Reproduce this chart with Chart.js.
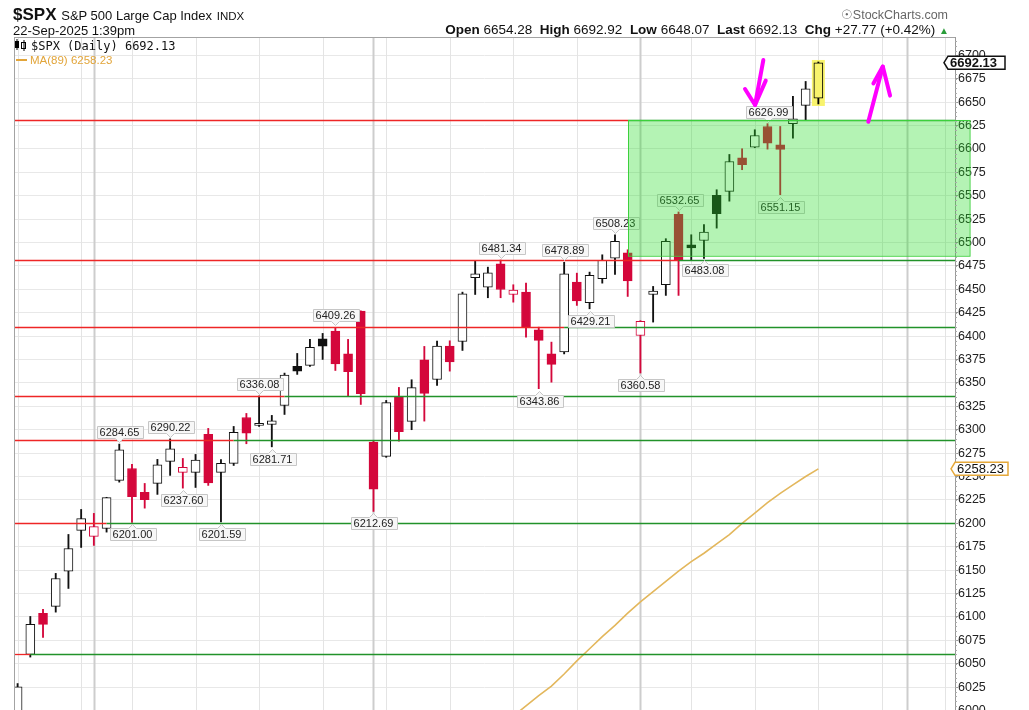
<!DOCTYPE html>
<html><head><meta charset="utf-8">
<script src="https://cdn.jsdelivr.net/npm/chart.js@4.4.1/dist/chart.umd.min.js"></script>
<style>
html,body{margin:0;padding:0;background:#fff;overflow:hidden;}
#wrap{position:relative;width:1029px;height:710px;overflow:hidden;font-family:"Liberation Sans",Arial,sans-serif;color:#111;}
#c{position:absolute;left:0;top:0;}
.hd{position:absolute;white-space:nowrap;line-height:1;}
.hd b{font-weight:bold;}
</style></head><body>
<div id="wrap">
<canvas id="c" width="1029" height="760"></canvas>
<div class="hd" style="left:13px;top:6px;font-size:17px;"><b>$SPX</b> <span style="font-size:13px">S&amp;P 500 Large Cap Index</span> <span style="font-size:11.5px">INDX</span></div>
<div class="hd" style="left:13px;top:24px;font-size:13px;">22-Sep-2025 1:39pm</div>
<div class="hd" style="right:81px;top:9px;font-size:12.5px;color:#666;">&#9737;StockCharts.com</div>
<div class="hd" style="right:80px;top:23px;font-size:13.5px;"><b>Open</b> 6654.28&nbsp; <b>High</b> 6692.92&nbsp; <b>Low</b> 6648.07&nbsp; <b>Last</b> 6692.13&nbsp; <b>Chg</b> +27.77 (+0.42%) <span style="color:#2a9d3a;font-size:10px">&#9650;</span></div>
</div>
<script>
// SPX daily, 23-Jun-2025 .. 22-Sep-2025 (+ empty slots to 6-Oct)
const dates = [
  '2025-06-23','2025-06-24','2025-06-25','2025-06-26','2025-06-27','2025-06-30',
  '2025-07-01','2025-07-02','2025-07-03','2025-07-07','2025-07-08','2025-07-09','2025-07-10','2025-07-11',
  '2025-07-14','2025-07-15','2025-07-16','2025-07-17','2025-07-18','2025-07-21','2025-07-22','2025-07-23',
  '2025-07-24','2025-07-25','2025-07-28','2025-07-29','2025-07-30','2025-07-31',
  '2025-08-01','2025-08-04','2025-08-05','2025-08-06','2025-08-07','2025-08-08','2025-08-11','2025-08-12',
  '2025-08-13','2025-08-14','2025-08-15','2025-08-18','2025-08-19','2025-08-20','2025-08-21','2025-08-22',
  '2025-08-25','2025-08-26','2025-08-27','2025-08-28','2025-08-29',
  '2025-09-02','2025-09-03','2025-09-04','2025-09-05','2025-09-08','2025-09-09','2025-09-10','2025-09-11',
  '2025-09-12','2025-09-15','2025-09-16','2025-09-17','2025-09-18','2025-09-19','2025-09-22',
  '2025-09-23','2025-09-24','2025-09-25','2025-09-26','2025-09-29','2025-09-30',
  '2025-10-01','2025-10-02','2025-10-03','2025-10-06'
];
const open  = [5969.7,6060.0,6103.7,6111.2,6148.9,6192.4,6186.0,6194.5,6245.8,6258.6,6233.0,6242.6,6266.1,6254.4,
  6254.4,6295.0,6254.4,6264.0,6313.1,6304.7,6305.6,6325.9,6367.6,6368.7,6397.2,6405.3,6381.2,6426.7,
  6286.7,6271.5,6334.8,6308.9,6374.8,6353.7,6389.3,6394.3,6462.4,6452.3,6477.3,6444.5,6447.0,6406.8,6381.2,6383.0,
  6457.7,6435.7,6461.3,6483.3,6489.1,6400.7,6444.5,6454.9,6530.0,6497.6,6502.2,6550.3,6554.6,6590.6,6601.9,6624.0,
  6604.5,6626.9,6646.5,6654.28];
const high  = [6028.8,6100.5,6108.0,6146.5,6188.1,6214.8,6210.6,6227.8,6284.65,6262.9,6242.6,6268.3,6290.22,6269.3,
  6273.6,6301.4,6268.0,6303.5,6317.4,6336.08,6315.3,6360.5,6381.5,6396.5,6402.9,6409.26,6396.5,6427.0,
  6288.0,6331.3,6345.2,6353.4,6389.0,6394.6,6395.0,6447.0,6480.1,6473.7,6481.34,6454.9,6456.6,6409.6,6393.6,6478.89,
  6467.3,6468.4,6486.9,6508.23,6492.3,6416.5,6453.1,6504.1,6532.65,6508.3,6519.3,6556.4,6594.1,6600.2,6620.5,6626.99,
  6624.0,6656.1,6672.1,6692.92];
const low   = [5943.2,6057.1,6078.1,6105.1,6130.4,6174.2,6176.4,6190.6,6244.0,6201.00,6216.2,6230.9,6251.2,6237.60,
  6238.3,6240.5,6201.59,6261.8,6285.0,6303.5,6281.71,6316.3,6359.1,6367.6,6375.1,6363.3,6335.6,6327.0,
  6212.69,6270.5,6287.8,6300.0,6309.2,6347.3,6362.6,6384.7,6444.5,6441.0,6441.0,6436.3,6398.9,6343.86,6350.8,6381.0,
  6432.8,6429.21,6456.6,6465.9,6442.4,6360.58,6415.0,6443.5,6443.5,6481.6,6483.08,6515.4,6544.2,6577.8,6601.3,6599.8,
  6551.15,6611.5,6630.4,6648.07];
const close = [6025.2,6092.2,6092.1,6141.0,6173.1,6205.0,6196.5,6227.4,6278.5,6228.5,6225.3,6262.4,6279.6,6259.7,
  6267.6,6243.2,6264.0,6297.2,6296.3,6305.6,6309.4,6358.3,6362.5,6388.0,6389.3,6370.3,6362.0,6338.4,
  6236.5,6329.0,6297.9,6344.9,6338.8,6389.3,6372.5,6445.3,6466.6,6467.7,6449.8,6449.2,6409.8,6395.4,6369.9,6466.6,
  6437.6,6464.9,6480.9,6501.2,6459.0,6415.8,6448.1,6501.2,6481.6,6494.2,6511.1,6530.8,6586.6,6583.1,6614.4,6606.2,
  6599.6,6632.2,6664.3,6692.13];
const prevClose0 = 5967.8;
// 89-day moving average (only the part that reaches the visible window)
const ma89 = [null,null,null,null,null,null,null,null,null,null,null,null,null,null,null,null,null,null,null,null,
  null,null,null,null,null,null,null,null,null,null,null,null,null,null,null,null,null,
  5972,5983,5994,6005,6016,6026,6039,6053,6066,6079,6091,6104,6116,6127,6138,6149,6159,6168,6178,6188,
  6200,6211,6222,6232,6241,6250,6258.23];

// drawn support / resistance levels, and the candle where they turn from red to green
const levels    = [6631, 6481.5, 6409.3, 6336, 6289, 6200.5, 6060];
const levelTurn = [48.03, 52, 43, 21, 17, 7, 1];
// green zone
const zoneX = [48.03, 74.9];
const zoneY = [6486, 6631];
// price callouts: candle index and which end of the candle
const calloutIdx  = [8,12,9,13,16,19,20,25,28,38,43,41,45,47,49,52,54,60,59];
const calloutSide = ['hi','hi','lo','lo','lo','hi','lo','hi','lo','hi','hi','lo','lo','hi','lo','hi','lo','lo','hi'];
// hand drawn magenta arrows (index, price)
const arrowTail  = [[58.67, 6695], [66.93, 6629]];
const arrowTip   = [[58.02, 6647], [68.07, 6688]];
const arrowBarbA = [[57.23, 6664], [67.33, 6670]];
const arrowBarbB = [[58.86, 6673], [68.64, 6657]];

const RED = '#d4073b', BLK = '#111', YEL = '#f8f36c';
const lineCol = [], fillCol = [];
for (let i=0;i<close.length;i++){
  const pc = i===0 ? prevClose0 : close[i-1];
  const col = close[i] >= pc ? BLK : RED;
  lineCol.push(col);
  fillCol.push(close[i] > open[i] ? '#ffffff' : col);
}
fillCol[close.length-1] = YEL;
lineCol[close.length-1] = '#000';

const wickData = close.map((c,i)=>({x:i, y:[low[i], high[i]]}));
const bodyData = close.map((c,i)=>({x:i, y:[open[i], c]}));
const maData = ma89.map((v,i)=>({x:i, y:v}));

const gridKind = dates.map((d,i)=>{
  if (i===0) return 1;
  const a = new Date(dates[i-1]+'T00:00:00Z'), b = new Date(d+'T00:00:00Z');
  if (b.getUTCMonth() !== a.getUTCMonth()) return 2;
  if (b.getUTCDay() <= a.getUTCDay()) return 1;
  return 0;
});

function seg(ctx, x1, y1, x2, y2){
  ctx.beginPath(); ctx.moveTo(x1,y1); ctx.lineTo(x2,y2); ctx.stroke();
}

function tag(ctx, tipX, left, right, cy, h, stroke, font, text){
  ctx.beginPath();
  ctx.moveTo(tipX, cy);
  ctx.lineTo(left, cy-h/2);
  ctx.lineTo(right, cy-h/2);
  ctx.lineTo(right, cy+h/2);
  ctx.lineTo(left, cy+h/2);
  ctx.closePath();
  ctx.fillStyle = '#fff'; ctx.fill();
  ctx.strokeStyle = stroke; ctx.lineWidth = 1.5; ctx.stroke();
  ctx.fillStyle = '#111'; ctx.font = font;
  ctx.textAlign = 'left'; ctx.textBaseline = 'middle';
  ctx.fillText(text, left+2, cy+0.5);
}

const overlay = {
  id: 'overlay',
  beforeDatasetsDraw(chart){
    const {ctx, chartArea:a, scales:{x, y}} = chart;
    ctx.save();
    // weekly / monthly vertical grid
    gridKind.forEach((k,i)=>{
      if (!k) return;
      const px = Math.round(x.getPixelForValue(i))+0.5;
      ctx.strokeStyle = k===2 ? '#cdcdcd' : '#e4e4e4';
      ctx.lineWidth = k===2 ? 2 : 1;
      seg(ctx, px, a.top, px, a.bottom);
    });
    // highlight of the last bar
    const li = close.length-1;
    const lx = x.getPixelForValue(li);
    ctx.fillStyle = YEL;
    const t = y.getPixelForValue(high[li])-2, b = y.getPixelForValue(low[li])+2;
    ctx.fillRect(lx-6.5, t, 13, b-t);
    ctx.restore();
  },
  afterDatasetsDraw(chart){
    const {ctx, chartArea:a, scales:{x, y}} = chart;
    ctx.save();
    // levels
    ctx.lineWidth = 1.3;
    levels.forEach((v,k)=>{
      const py = Math.round(y.getPixelForValue(v))+0.5;
      const bx = x.getPixelForValue(levelTurn[k]);
      ctx.strokeStyle = '#ee2626'; seg(ctx, a.left, py, bx, py);
      ctx.strokeStyle = '#22922a'; seg(ctx, bx, py, a.right, py);
    });
    // callouts
    ctx.font = '11px "Liberation Sans", Arial, sans-serif';
    ctx.lineWidth = 1;
    calloutIdx.forEach((ci,k)=>{
      const up = calloutSide[k]==='hi';
      const v = up ? high[ci] : low[ci];
      const txt = v.toFixed(2);
      const cx = Math.round(x.getPixelForValue(ci))+0.5;
      const vy = y.getPixelForValue(v);
      const w = Math.round(ctx.measureText(txt).width)+6, h = 12;
      const l = Math.round(cx - w/2)+0.5, r = l + w;
      const t = Math.round(up ? vy-6-h : vy+6)+0.5, b = t + h;
      ctx.beginPath();
      if (up){
        ctx.moveTo(l,t); ctx.lineTo(r,t); ctx.lineTo(r,b); ctx.lineTo(cx+4,b);
        ctx.lineTo(cx,b+4); ctx.lineTo(cx-4,b); ctx.lineTo(l,b);
      } else {
        ctx.moveTo(l,t); ctx.lineTo(cx-4,t); ctx.lineTo(cx,t-4); ctx.lineTo(cx+4,t);
        ctx.lineTo(r,t); ctx.lineTo(r,b); ctx.lineTo(l,b);
      }
      ctx.closePath();
      ctx.fillStyle = '#f7f7f7'; ctx.fill();
      ctx.strokeStyle = '#c6c6c6'; ctx.stroke();
      ctx.fillStyle = '#222'; ctx.textAlign = 'center'; ctx.textBaseline = 'middle';
      ctx.fillText(txt, cx, t+h/2+0.5);
    });
    // green zone
    const zl = x.getPixelForValue(zoneX[0]), zr = x.getPixelForValue(zoneX[1]);
    const zt = y.getPixelForValue(zoneY[1]), zb = y.getPixelForValue(zoneY[0]);
    ctx.fillStyle = 'rgba(40,220,40,0.35)';
    ctx.fillRect(zl, zt, zr-zl, zb-zt);
    ctx.strokeStyle = '#3cd03c'; ctx.lineWidth = 1;
    ctx.strokeRect(Math.round(zl)+0.5, Math.round(zt)+0.5, zr-zl, zb-zt);
    // arrows
    ctx.strokeStyle = '#ff00ff'; ctx.lineWidth = 4; ctx.lineCap = 'round'; ctx.lineJoin = 'round';
    const P = p => [x.getPixelForValue(p[0]), y.getPixelForValue(p[1])];
    arrowTip.forEach((tp,k)=>{
      const T = P(tp), S = P(arrowTail[k]), A = P(arrowBarbA[k]), B = P(arrowBarbB[k]);
      ctx.beginPath(); ctx.moveTo(S[0],S[1]); ctx.lineTo(T[0],T[1]); ctx.stroke();
      ctx.beginPath(); ctx.moveTo(A[0],A[1]); ctx.lineTo(T[0],T[1]); ctx.lineTo(B[0],B[1]); ctx.stroke();
    });
    ctx.restore();
  },
  afterDraw(chart){
    const {ctx, chartArea:a, scales:{y}} = chart;
    ctx.save();
    // frame
    ctx.strokeStyle = '#a3a3a3'; ctx.lineWidth = 1;
    seg(ctx, a.left+0.5, a.top+0.5, a.right, a.top+0.5);
    seg(ctx, a.left+0.5, a.top, a.left+0.5, a.bottom);
    // minor ticks on the price axis
    ctx.strokeStyle = '#aaa';
    for (let v=Math.ceil(y.min/5)*5; v<=y.max; v+=5){
      const py = Math.round(y.getPixelForValue(v))+0.5;
      seg(ctx, a.right, py, a.right+2, py);
    }
    // legend
    ctx.fillStyle = '#000';
    ctx.fillRect(16.5, 39, 1, 11); ctx.fillRect(15, 41, 4, 7);
    ctx.fillRect(23.5, 40, 1, 11); ctx.strokeStyle = '#000'; ctx.strokeRect(21.5, 42.5, 4, 6);
    ctx.font = '12px "DejaVu Sans Mono", monospace';
    ctx.textAlign = 'left'; ctx.textBaseline = 'alphabetic';
    ctx.fillStyle = '#111';
    ctx.fillText('$SPX (Daily) ' + close[close.length-1].toFixed(2), 31, 50);
    ctx.fillStyle = '#e2a53a'; ctx.fillRect(16, 59, 11, 2);
    ctx.font = '11.5px "Liberation Sans", Arial, sans-serif';
    ctx.fillText('MA(89) ' + ma89[ma89.length-1].toFixed(2), 30, 64);
    // axis value tags
    tag(ctx, a.right-11, a.right-7, a.right+50, y.getPixelForValue(close[close.length-1]), 13,
        '#111', 'bold 13px "Liberation Sans", Arial, sans-serif', close[close.length-1].toFixed(2));
    tag(ctx, a.right-4, a.right, a.right+53, y.getPixelForValue(ma89[ma89.length-1]), 13,
        '#e5a83a', '13px "Liberation Sans", Arial, sans-serif', ma89[ma89.length-1].toFixed(2));
    ctx.restore();
  }
};

new Chart(document.getElementById('c'), {
  data: {
    datasets: [
      { type:'bar', label:'wick', data: wickData, backgroundColor: lineCol, barThickness: 1.2,
        grouped:false, order:3 },
      { type:'bar', label:'$SPX', data: bodyData, backgroundColor: fillCol, borderColor: lineCol,
        borderWidth: 1, borderSkipped: false, barThickness: 9, minBarLength: 2, grouped:false, order:2 },
      { type:'line', label:'MA(89)', data: maData, borderColor:'#e3b75c', borderWidth:1.6,
        pointRadius:0, spanGaps:false, order:1 }
    ]
  },
  options: {
    responsive:false, animation:false, devicePixelRatio:1,
    layout:{ padding:{ top:37, left:14, right:0, bottom:10 } },
    plugins:{ legend:{ display:false }, tooltip:{ enabled:false } },
    scales:{
      x:{ type:'linear', min:-0.283, max:73.75, offset:false, display:false },
      y:{ position:'right', min:5957.8, max:6719.6,
          afterBuildTicks: s => { s.ticks = s.ticks.filter(t => Math.abs(t.value/25 - Math.round(t.value/25)) < 1e-6); },
          afterFit: s => { s.width = 74; },
          ticks:{ stepSize:25, autoSkip:false, padding:0, color:'#222',
                  font:{ family:'"Liberation Sans", Arial, sans-serif', size:12.5 },
                  callback: v => String(Math.round(v)) },
          grid:{ color:'#e8e8e8', tickLength:3, tickColor:'#999' },
          border:{ color:'#999' } }
    }
  },
  plugins:[overlay]
});
</script>
</body></html>
